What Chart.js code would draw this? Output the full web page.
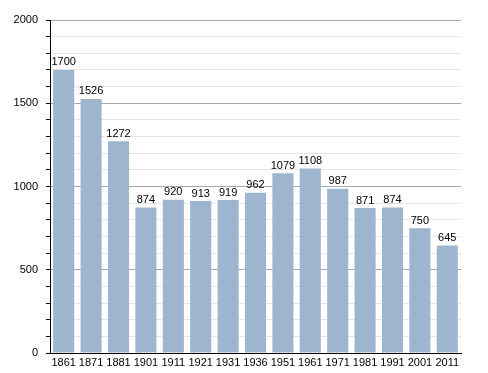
<!DOCTYPE html>
<html><head><meta charset="utf-8">
<script src="https://cdn.jsdelivr.net/npm/chart.js@4/dist/chart.umd.min.js"></script>
<style>html,body{margin:0;padding:0;background:#fff}#wrap{width:488px;height:373px}</style>
</head><body><div id="wrap"><canvas id="c" width="488" height="373"></canvas></div>
<script>
const years = ["1861","1871","1881","1901","1911","1921","1931","1936","1951","1961","1971","1981","1991","2001","2011"];
const population = [1700,1526,1272,874,920,913,919,962,1079,1108,987,871,874,750,645];
const yMajorTicks = [0,500,1000,1500,2000];

const valueLabels = {
  id:'valueLabels',
  afterDatasetsDraw(chart){
    const ctx = chart.ctx;
    const meta = chart.getDatasetMeta(0);
    ctx.save();
    ctx.font = '11px "Liberation Sans", Arial, sans-serif';
    ctx.fillStyle = '#000';
    ctx.textAlign = 'center';
    ctx.textBaseline = 'bottom';
    meta.data.forEach((bar,i)=>{
      ctx.fillText(String(population[i]), bar.x, bar.y - 2);
    });
    ctx.restore();
  }
};

new Chart(document.getElementById('c'), {
  type:'bar',
  data:{labels:years, datasets:[{data:population, backgroundColor:'#9db5cf', borderWidth:0, barPercentage:0.77, categoryPercentage:1}]},
  options:{
    responsive:false, animation:false, devicePixelRatio:1,
    layout:{padding:{left:0,right:27,top:20,bottom:0}},
    plugins:{legend:{display:false}, tooltip:{enabled:false}},
    scales:{
      x:{
        grid:{display:false, drawTicks:false},
        border:{display:true, color:'#000', width:1},
        ticks:{color:'#000', font:{family:'"Liberation Sans", Arial, sans-serif', size:11}, padding:3, maxRotation:0, autoSkip:false},
        afterFit(s){ s.height = 20; }
      },
      y:{
        min:0, max:2000,
        ticks:{stepSize:100, color:'#000', font:{family:'"Liberation Sans", Arial, sans-serif', size:11}, padding:8,
          callback:(v)=> yMajorTicks.includes(v) ? String(v) : ''},
        grid:{
          color:(c)=> (c.tick && c.tick.value % 500 === 0) ? '#a8a8a8' : '#e6e6e6',
          tickColor:'#000', tickLength:4, drawOnChartArea:true
        },
        border:{display:true, color:'#000', width:1},
        afterFit(s){ s.width = 50; }
      }
    }
  },
  plugins:[valueLabels]
});
</script></body></html>
